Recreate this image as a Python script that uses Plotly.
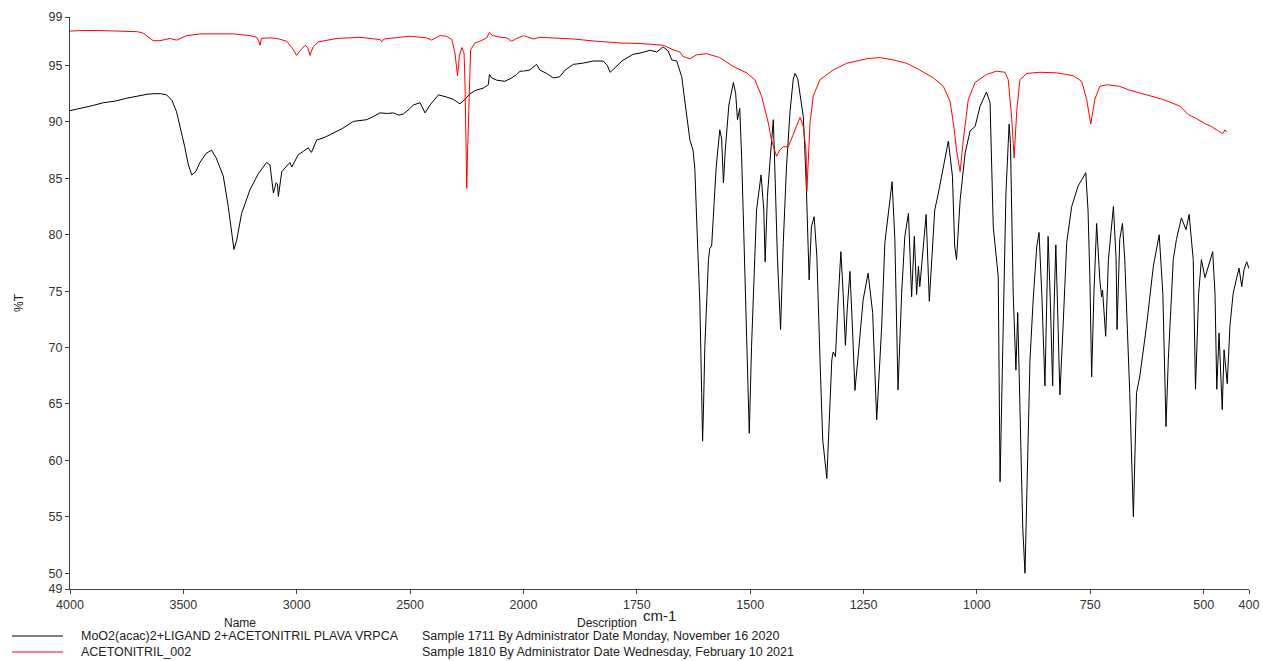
import plotly.graph_objects as go

# ---------------- data ----------------
SAMPLE_WN = [4000, 3950, 3900, 3853, 3800, 3750, 3700, 3660, 3633, 3600, 3574, 3550, 3530, 3510,
             3494, 3478, 3463, 3445, 3427, 3400, 3376, 3355, 3324, 3302, 3290, 3277, 3265, 3243,
             3206, 3170, 3133, 3118, 3103, 3095, 3091, 3085, 3081, 3066, 3050, 3030, 3022, 2993,
             2970, 2949, 2935, 2912, 2880, 2839, 2800, 2750, 2720, 2691, 2660, 2633, 2600, 2574,
             2550, 2530, 2500, 2486, 2456, 2445, 2434, 2412, 2390, 2375, 2338, 2309, 2280, 2258,
             2236, 2210, 2177, 2155, 2150, 2140, 2118, 2082, 2052, 2030, 2015, 2000,
             1986, 1971, 1964, 1949, 1934, 1920, 1908, 1890, 1870, 1846, 1824, 1815, 1809, 1798,
             1783, 1758, 1743, 1721, 1706, 1692, 1681, 1673, 1662, 1651, 1644, 1633, 1626, 1622,
             1618, 1611, 1607, 1605, 1603, 1600, 1592, 1589, 1585, 1581, 1575, 1567, 1563, 1559,
             1555, 1547, 1537, 1532, 1528, 1523, 1519, 1514, 1508, 1502, 1497, 1486, 1476, 1470,
             1467, 1462, 1456, 1449, 1445, 1440, 1433, 1427, 1420, 1412, 1405, 1401, 1395, 1388,
             1383, 1380, 1376, 1370, 1365, 1359, 1353, 1346, 1340, 1331, 1326, 1320, 1317, 1312,
             1306, 1300, 1295, 1290, 1286, 1280, 1274, 1269, 1260, 1251, 1240, 1230, 1221, 1210,
             1203, 1187, 1181, 1174, 1166, 1159, 1151, 1144, 1138, 1133, 1129, 1126, 1122, 1112,
             1105, 1093, 1085, 1074, 1063, 1054, 1049, 1045, 1037, 1026, 1015, 1004, 993, 979,
             971, 964, 953, 949, 943, 936, 929, 926, 920, 914, 910, 907, 899, 894, 889, 883, 876,
             868, 863, 857, 850, 846, 843, 838, 833, 830, 826, 821, 817, 810, 802, 791, 777, 760,
             755, 751, 747, 742, 736, 729, 725, 723, 716, 710, 699, 693, 691, 685, 679, 674, 663,
             655, 648, 641, 626, 611, 598, 590, 583, 578, 567, 560, 549, 539, 532, 523, 518, 511,
             505, 497, 490, 480, 475, 471, 466, 463, 459, 455, 451, 448, 442, 435, 422, 416, 411,
             405, 400]
SAMPLE_T = [91.0, 91.2, 91.45, 91.7, 91.85, 92.1, 92.3, 92.45, 92.5, 92.5, 92.4, 91.9, 90.9, 89.3,
            87.8, 86.2, 85.3, 85.6, 86.4, 87.2, 87.5, 86.8, 85.2, 82.5, 80.8, 78.7, 79.5, 81.9,
            84.0, 85.4, 86.4, 86.2, 83.7, 84.4, 84.6, 84.5, 83.4, 85.6, 86.0, 86.4, 86.0, 87.1,
            87.4, 87.7, 87.3, 88.4, 88.6, 89.0, 89.4, 90.05, 90.1, 90.2, 90.5, 90.8, 90.75, 90.8,
            90.6, 90.7, 91.2, 91.5, 91.7, 91.3, 90.8, 91.5, 92.0, 92.4, 92.2, 92.0, 91.6, 92.0,
            92.5, 92.8, 93.0, 93.3, 94.2, 93.9, 93.7, 93.6, 93.9, 94.2, 94.5, 94.5,
            94.6, 95.1, 94.6, 94.3, 93.9, 94.0, 94.6, 95.1, 95.2, 95.4, 95.4, 95.0, 94.4, 94.8,
            95.4, 96.0, 96.1, 96.35, 96.2, 96.65, 96.3, 95.5, 95.4, 94.0, 91.7, 88.4, 87.5, 85.8,
            81.3, 73.9, 66.0, 61.7, 64.5, 70.1, 77.8, 78.8, 79.0, 82.2, 86.0, 89.3, 88.5, 84.6,
            87.5, 91.5, 93.5, 92.5, 90.2, 91.2, 87.0, 80.0, 70.0, 62.4, 70.1, 82.2, 85.3, 82.2,
            77.6, 83.4, 86.7, 90.2, 85.0, 78.0, 71.6, 79.3, 86.0, 91.0, 93.8, 94.3, 93.8, 92.0,
            90.5, 88.0, 84.0, 76.0, 80.7, 81.6, 78.1, 68.9, 61.8, 58.4, 63.0, 68.9, 69.6, 69.2,
            74.2, 78.5, 74.8, 70.2, 73.4, 76.75, 71.3, 66.2, 70.1, 74.2, 76.6, 73.1, 63.6, 71.9,
            79.3, 84.7, 79.6, 66.25, 74.8, 79.85, 81.9, 74.5, 79.85, 74.7, 77.2, 75.4, 77.2, 81.8,
            74.1, 82.2, 83.7, 86.1, 88.3, 85.2, 79.0, 77.8, 83.1, 87.25, 89.2, 89.6, 91.4, 92.65,
            91.7, 80.7, 76.3, 58.1, 68.9, 83.7, 89.8, 88.1, 74.8, 68.0, 73.1, 67.7, 54.1, 50.0,
            58.6, 68.9, 74.2, 79.0, 80.2, 74.8, 66.6, 74.8, 79.85, 74.0, 66.6, 73.4, 79.1, 71.9,
            65.8, 71.9, 79.3, 82.5, 84.3, 85.5, 82.2, 76.3, 67.4, 74.8, 81.0, 76.0, 74.5, 75.1,
            71.0, 77.8, 82.5, 77.8, 71.6, 79.6, 81.0, 77.8, 66.0, 55.0, 66.0, 67.4, 71.9, 77.2,
            80.0, 74.8, 63.0, 68.9, 77.8, 79.6, 81.5, 80.45, 81.8, 77.8, 66.3, 74.8, 77.8, 76.2,
            77.2, 78.5, 74.8, 66.3, 71.3, 68.9, 64.5, 69.8, 68.3, 66.8, 71.9, 74.8, 77.05, 75.4,
            76.9, 77.6, 77.0]

REF_WN = [4000, 3950, 3868, 3800, 3706, 3680, 3662, 3633, 3603, 3559, 3530, 3500, 3485, 3427, 3350,
          3280, 3206, 3177, 3168, 3162, 3156, 3120, 3088, 3044, 3022, 3008, 3000, 2990, 2978, 2963,
          2952, 2941, 2935, 2926, 2904, 2823, 2721, 2633, 2625, 2615, 2500, 2427, 2405, 2368, 2340,
          2316, 2302, 2296, 2291, 2286, 2283, 2272, 2262, 2258, 2255, 2250, 2247, 2243, 2233, 2214,
          2192, 2162, 2150, 2140, 2133, 2100, 2074, 2052, 2030, 2000,
          1978, 1964, 1927, 1890, 1839, 1787, 1743, 1692, 1670, 1655, 1648, 1633, 1618, 1596, 1567,
          1537, 1508, 1490, 1475, 1460, 1453, 1442, 1435, 1427, 1416, 1401, 1390, 1383, 1377, 1375,
          1372, 1368, 1361, 1346, 1317, 1287, 1243, 1214, 1185, 1155, 1126, 1096, 1074, 1059, 1051,
          1045, 1037, 1030, 1019, 1004, 979, 957, 938, 931, 923, 918, 912, 905, 890, 861, 824, 788,
          769, 758, 749, 740, 729, 714, 685, 666, 626, 590, 552, 534, 516, 497, 483, 471, 458, 453,
          449]
REF_T = [98.05, 98.1, 98.1, 98.05, 98.0, 97.9, 97.6, 97.2, 97.2, 97.4, 97.25, 97.5, 97.65, 97.8, 97.8,
         97.8, 97.65, 97.5, 97.2, 96.8, 97.4, 97.45, 97.4, 97.15, 96.6, 96.1, 95.9, 96.2, 96.5, 96.8,
         96.6, 95.9, 96.3, 96.7, 97.1, 97.4, 97.5, 97.3, 97.1, 97.35, 97.6, 97.45, 97.25, 97.65, 97.6,
         97.3, 96.1, 95.0, 94.1, 95.0, 95.8, 96.6, 96.1, 93.5, 89.6, 84.1, 87.0, 90.2, 96.4, 97.0,
         97.15, 97.45, 97.95, 97.7, 97.65, 97.5, 97.45, 97.15, 97.4, 97.65,
         97.35, 97.5, 97.45, 97.35, 97.15, 97.0, 96.95, 96.8, 96.4, 96.2, 95.8, 95.6, 95.95, 96.05, 95.7,
         94.9, 94.35, 93.75, 92.3, 89.9, 88.4, 86.95, 87.5, 87.8, 87.8, 89.3, 90.4, 89.6, 87.5, 83.85,
         86.0, 89.9, 92.3, 93.75, 94.6, 95.2, 95.6, 95.7, 95.5, 95.2, 94.6, 93.9, 93.15, 91.8, 89.6,
         87.5, 85.6, 88.4, 92.0, 93.5, 94.2, 94.5, 94.4, 93.75, 90.2, 86.8, 91.1, 93.75, 94.3, 94.4,
         94.35, 94.1, 93.6, 92.0, 89.8, 92.0, 93.15, 93.3, 93.15, 92.85, 92.4, 92.0, 91.4, 90.65,
         90.3, 89.85, 89.6, 89.3, 88.95, 89.3, 89.1]

SERIES_NAMES = ["MoO2(acac)2+LIGAND 2+ACETONITRIL PLAVA VRPCA", "ACETONITRIL_002"]
SERIES_DESC = ["Sample 1711 By Administrator Date Monday, November 16 2020",
               "Sample 1810 By Administrator Date Wednesday, February 10 2021"]
X_TICKS_HIGH = [4000, 3500, 3000, 2500]
X_TICKS_LOW = [2000, 1750, 1500, 1250, 1000, 750, 500, 400]
Y_TICKS = [48.6, 50, 55, 60, 65, 70, 75, 80, 85, 90, 95, 99.3]
Y_TICK_TEXT = ["49", "50", "55", "60", "65", "70", "75", "80", "85", "90", "95", "99"]
BREAK = 2000
X_MAX, X_MIN = 4000, 400
Y_RANGE = [48.6, 99.3]


def split(wn, t):
    hi = [(w, v) for w, v in zip(wn, t) if w >= BREAK]
    lo = [(w, v) for w, v in zip(wn, t) if w <= BREAK]
    return [p[0] for p in hi], [p[1] for p in hi], [p[0] for p in lo], [p[1] for p in lo]


# domain split: below 2000 cm-1 the scale is doubled
d_break = (X_MAX - BREAK) / ((X_MAX - BREAK) + 2 * (BREAK - X_MIN))

fig = go.Figure()
for wn, t, col in [(SAMPLE_WN, SAMPLE_T, "#000000"), (REF_WN, REF_T, "#ff0000")]:
    hw, ht, lw, lt = split(wn, t)
    fig.add_trace(go.Scatter(x=hw, y=ht, mode="lines", line=dict(color=col, width=1),
                             xaxis="x", yaxis="y", showlegend=False, hoverinfo="skip"))
    fig.add_trace(go.Scatter(x=lw, y=lt, mode="lines", line=dict(color=col, width=1),
                             xaxis="x2", yaxis="y", showlegend=False, hoverinfo="skip"))

axis_common = dict(showgrid=False, zeroline=False, showline=True, linecolor="#404040",
                   linewidth=1, ticks="outside", ticklen=4, tickcolor="#404040",
                   automargin=False,
                   tickfont=dict(family="Liberation Sans, Arial, sans-serif", size=12.5, color="#333333"))

fig.update_layout(
    template="none",
    width=1263, height=661,
    margin=dict(l=70, r=14, t=17, b=72, pad=0, autoexpand=False),
    plot_bgcolor="white", paper_bgcolor="white",
    xaxis=dict(domain=[0, d_break], range=[X_MAX, BREAK], tickvals=X_TICKS_HIGH,
               anchor="y", **axis_common),
    xaxis2=dict(domain=[d_break, 1], range=[BREAK, X_MIN], tickvals=X_TICKS_LOW,
                anchor="y", **axis_common),
    yaxis=dict(range=Y_RANGE, tickvals=Y_TICKS, ticktext=Y_TICK_TEXT, anchor="x",
               **axis_common),
)

font = dict(family="Liberation Sans, Arial, sans-serif", color="#222222")
H = 572.0
W = 1179.0


def py(pix):
    return (589 - pix) / H


def px(pix):
    return (pix - 70) / W


fig.add_annotation(text="cm-1", x=px(659), y=py(615), xref="paper", yref="paper",
                   showarrow=False, font=dict(size=15, **font), xanchor="center", yanchor="middle")
fig.add_annotation(text="%T", x=px(19), y=0.5, xref="paper", yref="paper", textangle=-90,
                   showarrow=False, font=dict(size=12, **font), xanchor="center", yanchor="middle")
fig.add_annotation(text="Name", x=px(240), y=py(623), xref="paper", yref="paper",
                   showarrow=False, font=dict(size=12, **font), xanchor="center", yanchor="middle")
fig.add_annotation(text="Description", x=px(607), y=py(623), xref="paper", yref="paper",
                   showarrow=False, font=dict(size=12, **font), xanchor="center", yanchor="middle")

for i, (name, desc, col) in enumerate(zip(SERIES_NAMES, SERIES_DESC, ["#000000", "#ff0000"])):
    yy = py(636 + 16 * i)
    fig.add_shape(type="line", xref="paper", yref="paper", x0=px(12), x1=px(63), y0=yy, y1=yy,
                  line=dict(color=col, width=1))
    fig.add_annotation(text=name, x=px(79), y=yy, xref="paper", yref="paper", showarrow=False,
                       font=dict(size=12.5, **font), xanchor="left", yanchor="middle")
    fig.add_annotation(text=desc, x=px(420), y=yy, xref="paper", yref="paper", showarrow=False,
                       font=dict(size=12.5, **font), xanchor="left", yanchor="middle")

fig.write_html("out.html", config={"displayModeBar": False},
               post_script="document.body.style.margin='0';document.body.style.overflow='hidden';")
